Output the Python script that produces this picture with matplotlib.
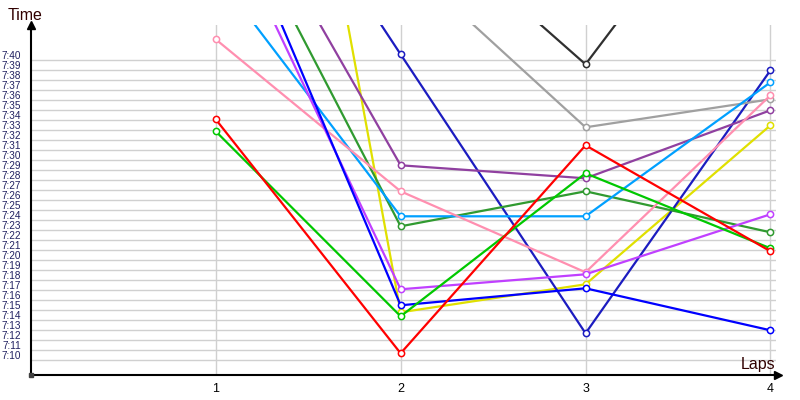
import numpy as np
import matplotlib
matplotlib.use("Agg")
import matplotlib.pyplot as plt
import matplotlib.transforms as mtransforms
from matplotlib.ticker import FuncFormatter

# --------------------------------------------------------------------------
# Data: lap times in seconds (7:00 = 420 s), laps 1-4
# --------------------------------------------------------------------------

LAPS = [1, 2, 3, 4]

red_times        = [454.1, 430.7, 451.5, 440.9]
green_times      = [452.9, 434.4, 448.7, 441.2]
pink_times       = [462.1, 446.9, 438.8, 456.5]
lightblue_times  = [468.7, 444.4, 444.4, 457.8]
blue_times       = [479.1, 435.5, 437.2, 433.0]
violet_times     = [476.1, 437.1, 438.6, 444.6]
darkgreen_times  = [479.0, 443.4, 446.9, 442.8]
purple_times     = [481.8, 449.5, 448.2, 455.0]
yellow_times     = [535.6, 434.8, 437.6, 453.5]
navy_times       = [488.6, 460.6, 432.7, 459.0]
gray_times       = [np.nan, 470.2, 453.3, 456.1]
black_times      = [np.nan, 475.9, 459.6, 484.1]

Y_TICKS = list(range(430, 461))

SERIES = [
    (yellow_times,    "#e0e000"),
    (navy_times,      "#1c1cc0"),
    (gray_times,      "#a0a0a0"),
    (black_times,     "#303030"),
    (darkgreen_times, "#309a30"),
    (purple_times,    "#9040a0"),
    (lightblue_times, "#00a0ff"),
    (pink_times,      "#ff8fb0"),
    (violet_times,    "#c040ff"),
    (blue_times,      "#0000ff"),
    (green_times,     "#00c800"),
    (red_times,       "#ff0000"),
]


def fmt_time(v, _):
    v = int(round(v))
    return f"{v // 60}:{v % 60:02d}"


fig = plt.figure(figsize=(8, 4), dpi=100)
ax = fig.add_axes([30.8 / 800, 25 / 400, (776 - 30.8) / 800, 350 / 400])

for times, color in SERIES:
    ax.plot(LAPS, times, color=color, linewidth=1.6, marker="o",
            markersize=4.5, markerfacecolor="white", markeredgecolor=color,
            markeredgewidth=1.1, zorder=3)

ax.set_xlim(0, 4.03)
ax.set_ylim(428.53, 463.53)

ax.set_xticks(LAPS)
ax.set_yticks(Y_TICKS)
ax.yaxis.set_major_formatter(FuncFormatter(fmt_time))
ax.grid(True, color="#d0d0d0", linewidth=1.0, zorder=0)
ax.set_axisbelow(True)

ax.tick_params(axis="both", length=0)
ax.tick_params(axis="y", pad=7, labelsize=7.2, labelcolor="#202060")
ax.tick_params(axis="x", pad=6, labelsize=9, labelcolor="#000000")
for lbl in ax.get_yticklabels():
    lbl.set_fontfamily("Liberation Sans")
    lbl.set_transform(lbl.get_transform()
                      + mtransforms.ScaledTranslation(0, 5 / 100, fig.dpi_scale_trans))
for lbl in ax.get_xticklabels():
    lbl.set_fontfamily("Liberation Sans")

for side in ("top", "right"):
    ax.spines[side].set_visible(False)
for side in ("left", "bottom"):
    ax.spines[side].set_linewidth(1.5)
    ax.spines[side].set_color("black")

# axis arrow heads and origin mark
ax.plot(0, 1.0, marker="^", color="black", markersize=6,
        transform=ax.transAxes, clip_on=False, zorder=5)
ax.plot(1.003, 0, marker=">", color="black", markersize=6,
        transform=ax.transAxes, clip_on=False, zorder=5)
ax.plot(0, 0, marker="s", color="#404040", markersize=3,
        transform=ax.transAxes, clip_on=False, zorder=5)

fig.text(8 / 800, 1 - 15 / 400, "Time", ha="left", va="center",
         fontsize=11.5, color="#300000", family="Liberation Sans")
fig.text(775 / 800, 1 - 364 / 400, "Laps", ha="right", va="center",
         fontsize=11.5, color="#300000", family="Liberation Sans")

fig.savefig("out.png", dpi=100)
